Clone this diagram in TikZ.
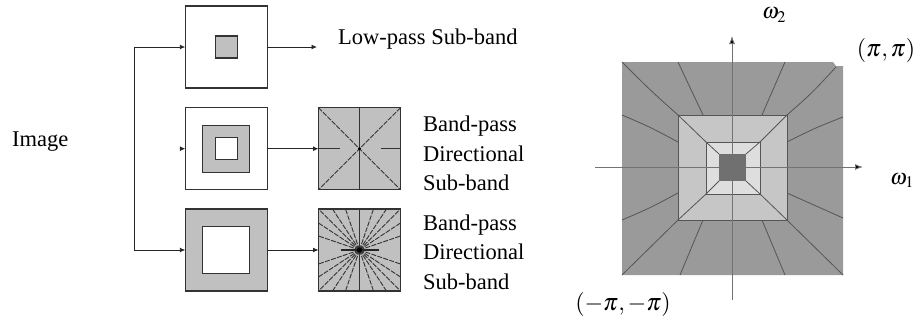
\documentclass[tikz,border=0pt]{standalone}
\usepackage{mathptmx}
\usepackage{fontspec}
\setmainfont{Liberation Serif}
\usetikzlibrary{arrows.meta}
\definecolor{boxgray}{HTML}{C0C0C0}
\definecolor{outerc}{HTML}{9A9A9A}
\definecolor{midc}{HTML}{C6C6C6}
\definecolor{innc}{HTML}{DEDEDE}
\definecolor{darkc}{HTML}{707070}
\definecolor{rayc}{HTML}{555555}
\tikzset{
  frame/.style={draw=black!80, line width=1.3pt, minimum size=82pt, inner sep=0pt, outer sep=0pt},
  wbox/.style={frame, fill=white},
  gbox/.style={frame, fill=boxgray},
  insq/.style={draw=black!80, line width=1.3pt, inner sep=0pt, outer sep=0pt},
  conn/.style={line width=0.9pt, black!85},
  arr/.style={conn, -{Latex[length=5.5pt,width=5pt]}},
  lbl/.style={font=\fontsize{22.5}{28}\selectfont, inner sep=0pt, anchor=base west},
  mlbl/.style={font=\fontsize{24}{28}\selectfont, inner sep=0pt},
  wlbl/.style={font=\fontsize{22}{26}\selectfont, inner sep=0pt, anchor=base west},
  ray/.style={line width=0.9pt, black!80, dash pattern=on 5pt off 1.3pt},
  solidray/.style={line width=1pt, black!80},
  fan/.style={line width=0.8pt, rayc},
  axis/.style={line width=0.9pt, black!55, -{Latex[length=8pt,width=6pt,fill=black]}},
}
\begin{document}
\begin{tikzpicture}[x=1pt,y=-1pt]
\useasboundingbox (0,0) rectangle (919,324);
% ---------- left part ----------
\node[lbl] (img) at (12,146.5) {Image};
\node[wbox] (A) at (226.3,47) {};
\node[insq, fill=boxgray, minimum size=22pt] (Ai) at (A) {};
\node[wbox] (B) at (226.3,148.7) {};
\node[insq, fill=boxgray, minimum size=47pt] (Bg) at (B) {};
\node[insq, fill=white, minimum size=22pt] (Bw) at (B) {};
\node[gbox] (C) at (226.3,250) {};
\node[insq, fill=white, minimum size=47pt] (Cw) at (C) {};
\node[gbox] (D) at (359.5,148.7) {};
\node[gbox] (E) at (359.5,250) {};

% box D contents
\draw[ray] (D.north west) -- (D.south east);
\draw[ray] (D.north east) -- (D.south west);
\draw[solidray] (D.north) -- (D.south);
\draw[solidray] (D.west) -- ++(21,0);
\draw[solidray] (D.east) -- ++(-20,0);
\fill[black] (D.center) circle (1.6pt);
\node[frame] at (D) {};

% box E contents
\foreach \dx/\dy in {-41/-41,-27/-41,-14/-41,14/-41,27/-41,41/-41,
                     41/-27,41/-14,41/14,41/27,
                     41/41,27/41,14/41,-14/41,-27/41,-41/41,
                     -41/27,-41/14,-41/-14,-41/-27}
  \draw[ray] (E.center) -- ++(\dx,\dy);
\draw[solidray] (E.north) -- (E.south);
\draw[line width=1.2pt, black!85] ([xshift=-19pt]E.center) -- ([xshift=19pt]E.center);
\fill[black] (E.center) circle (2.6pt);
\node[frame] at (E) {};

% connectors
\coordinate (sTop) at (134,47);
\coordinate (sBot) at (134,250);
\coordinate (lpEnd) at (317,47);
\coordinate (bTip) at (180,148.7);
\draw[conn] (sTop) -- (sBot);
\draw[arr] (sTop) -- (A.west);
\draw[arr] (sBot) -- (C.west);
\draw[arr] (bTip) -- (B.west);
\draw[arr] (A.east) -- (lpEnd);
\draw[arr] (B.east) -- (D.west);
\draw[arr] (C.east) -- (E.west);

% labels
\node[lbl] (lp) at (338,44) {Low-pass Sub-band};
\node[lbl] (b1a) at (423,131.5) {Band-pass};
\node[lbl] (b1b) at (423,161) {Directional};
\node[lbl] (b1c) at (423,190) {Sub-band};
\node[lbl] (b2a) at (423,230) {Band-pass};
\node[lbl] (b2b) at (423,259.5) {Directional};
\node[lbl] (b2c) at (423,289) {Sub-band};

% ---------- right part ----------
\fill[outerc] (622,62) -- (833,62) -- (836,66) -- (843,66) -- (843,275) -- (622,275) -- cycle;
% outer ring rays
\draw[fan] (678,115) .. controls (650,90) .. (622,62);
\draw[fan] (787,115) .. controls (812,93) .. (836,67);
\draw[fan] (678,220) .. controls (650,248) .. (622,275);
\draw[fan] (787,220) .. controls (815,248) .. (843,275);
\draw[fan] (703,115) .. controls (690,89) .. (678,62);
\draw[fan] (762,115) .. controls (774,89) .. (785,62);
\draw[fan] (703,220) .. controls (691,247) .. (680,275);
\draw[fan] (762,220) .. controls (773,247) .. (785,275);
\draw[fan] (678,142) .. controls (650,127) .. (622,115);
\draw[fan] (678,193) .. controls (650,208) .. (622,220);
\draw[fan] (787,142) .. controls (815,128) .. (843,117);
\draw[fan] (787,193) .. controls (815,206) .. (843,218);
% middle ring
\filldraw[fill=midc, draw=rayc, line width=0.8pt] (678,115) rectangle (787,220);
\draw[fan] (678,115) -- (706,142);
\draw[fan] (787,115) -- (760,142);
\draw[fan] (678,220) -- (706,194);
\draw[fan] (787,220) -- (760,194);
% inner ring
\filldraw[fill=innc, draw=rayc, line width=0.8pt] (706,142) rectangle (760,194);
\draw[fan] (706,142) -- (719,154);
\draw[fan] (760,142) -- (746,154);
\draw[fan] (706,194) -- (719,181);
\draw[fan] (760,194) -- (746,181);
% axes
\coordinate (xs) at (595,167);
\coordinate (xe) at (863,167);
\coordinate (ys) at (732,300);
\coordinate (ye) at (732,36);
\draw[axis] (xs) -- (xe);
\draw[axis] (ys) -- (ye);
\fill[darkc] (719,154) rectangle (746,181);

\node[wlbl] (w2) at (762,19) {$\omega_2$};
\node[wlbl] (w1) at (890,184) {$\omega_1$};
\node[mlbl] (pp) at (886,50) {$(\pi,\pi)$};
\node[mlbl] (mm) at (623,304) {$(-\pi,-\pi)$};
\end{tikzpicture}
\end{document}
